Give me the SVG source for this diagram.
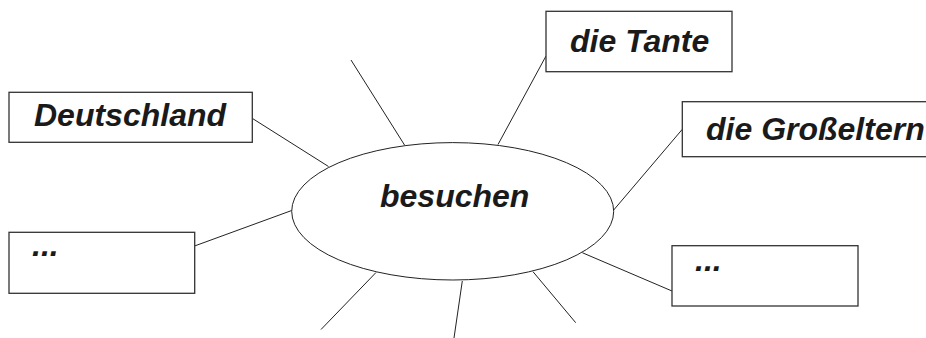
<svg xmlns="http://www.w3.org/2000/svg" width="926" height="338" viewBox="0 0 926 338">
<style>
.box{fill:#fff;stroke:#333;stroke-width:1.3}
.lbl{font-family:"Liberation Sans",Arial,sans-serif;font-weight:bold;font-style:italic;font-size:32px;fill:#1a1a1a}
.ln{stroke:#222;stroke-width:1;fill:none}
</style>
<rect width="926" height="338" fill="#fff"/>
<g id="connectors">
<line class="ln" x1="351" y1="60" x2="404.5" y2="145"/>
<line class="ln" x1="252.5" y1="118.5" x2="328.5" y2="166.5"/>
<line class="ln" x1="194.5" y1="246" x2="291.7" y2="210.5"/>
<line class="ln" x1="376" y1="272.5" x2="321" y2="329.5"/>
<line class="ln" x1="462.3" y1="281" x2="454" y2="338"/>
<line class="ln" x1="498" y1="144.5" x2="546" y2="56"/>
<line class="ln" x1="613.7" y1="210" x2="682.3" y2="129.3"/>
<line class="ln" x1="582.3" y1="252.7" x2="672" y2="291"/>
<line class="ln" x1="533" y1="271.7" x2="575.7" y2="322.7"/>
</g>
<g id="center">
<ellipse cx="452.7" cy="211.3" rx="161" ry="68.7" fill="#fff" stroke="#222" stroke-width="1"/>
<text class="lbl" x="380" y="206.5">besuchen</text>
</g>
<g id="deutschland">
<rect class="box" x="9" y="92.3" width="243.3" height="50"/>
<text class="lbl" x="34" y="125.5">Deutschland</text>
</g>
<g id="left-more">
<rect class="box" x="9" y="232.3" width="185.7" height="61"/>
<text class="lbl" x="32" y="256">...</text>
</g>
<g id="tante">
<rect class="box" x="546" y="11.3" width="186" height="60.4"/>
<text class="lbl" x="570" y="51.5">die Tante</text>
</g>
<g id="grosseltern">
<rect class="box" x="682.3" y="101.7" width="260" height="55"/>
<text class="lbl" x="706" y="139.5">die Großeltern</text>
</g>
<g id="right-more">
<rect class="box" x="672" y="245.7" width="186" height="60.3"/>
<text class="lbl" x="695" y="270.5">...</text>
</g>
</svg>
